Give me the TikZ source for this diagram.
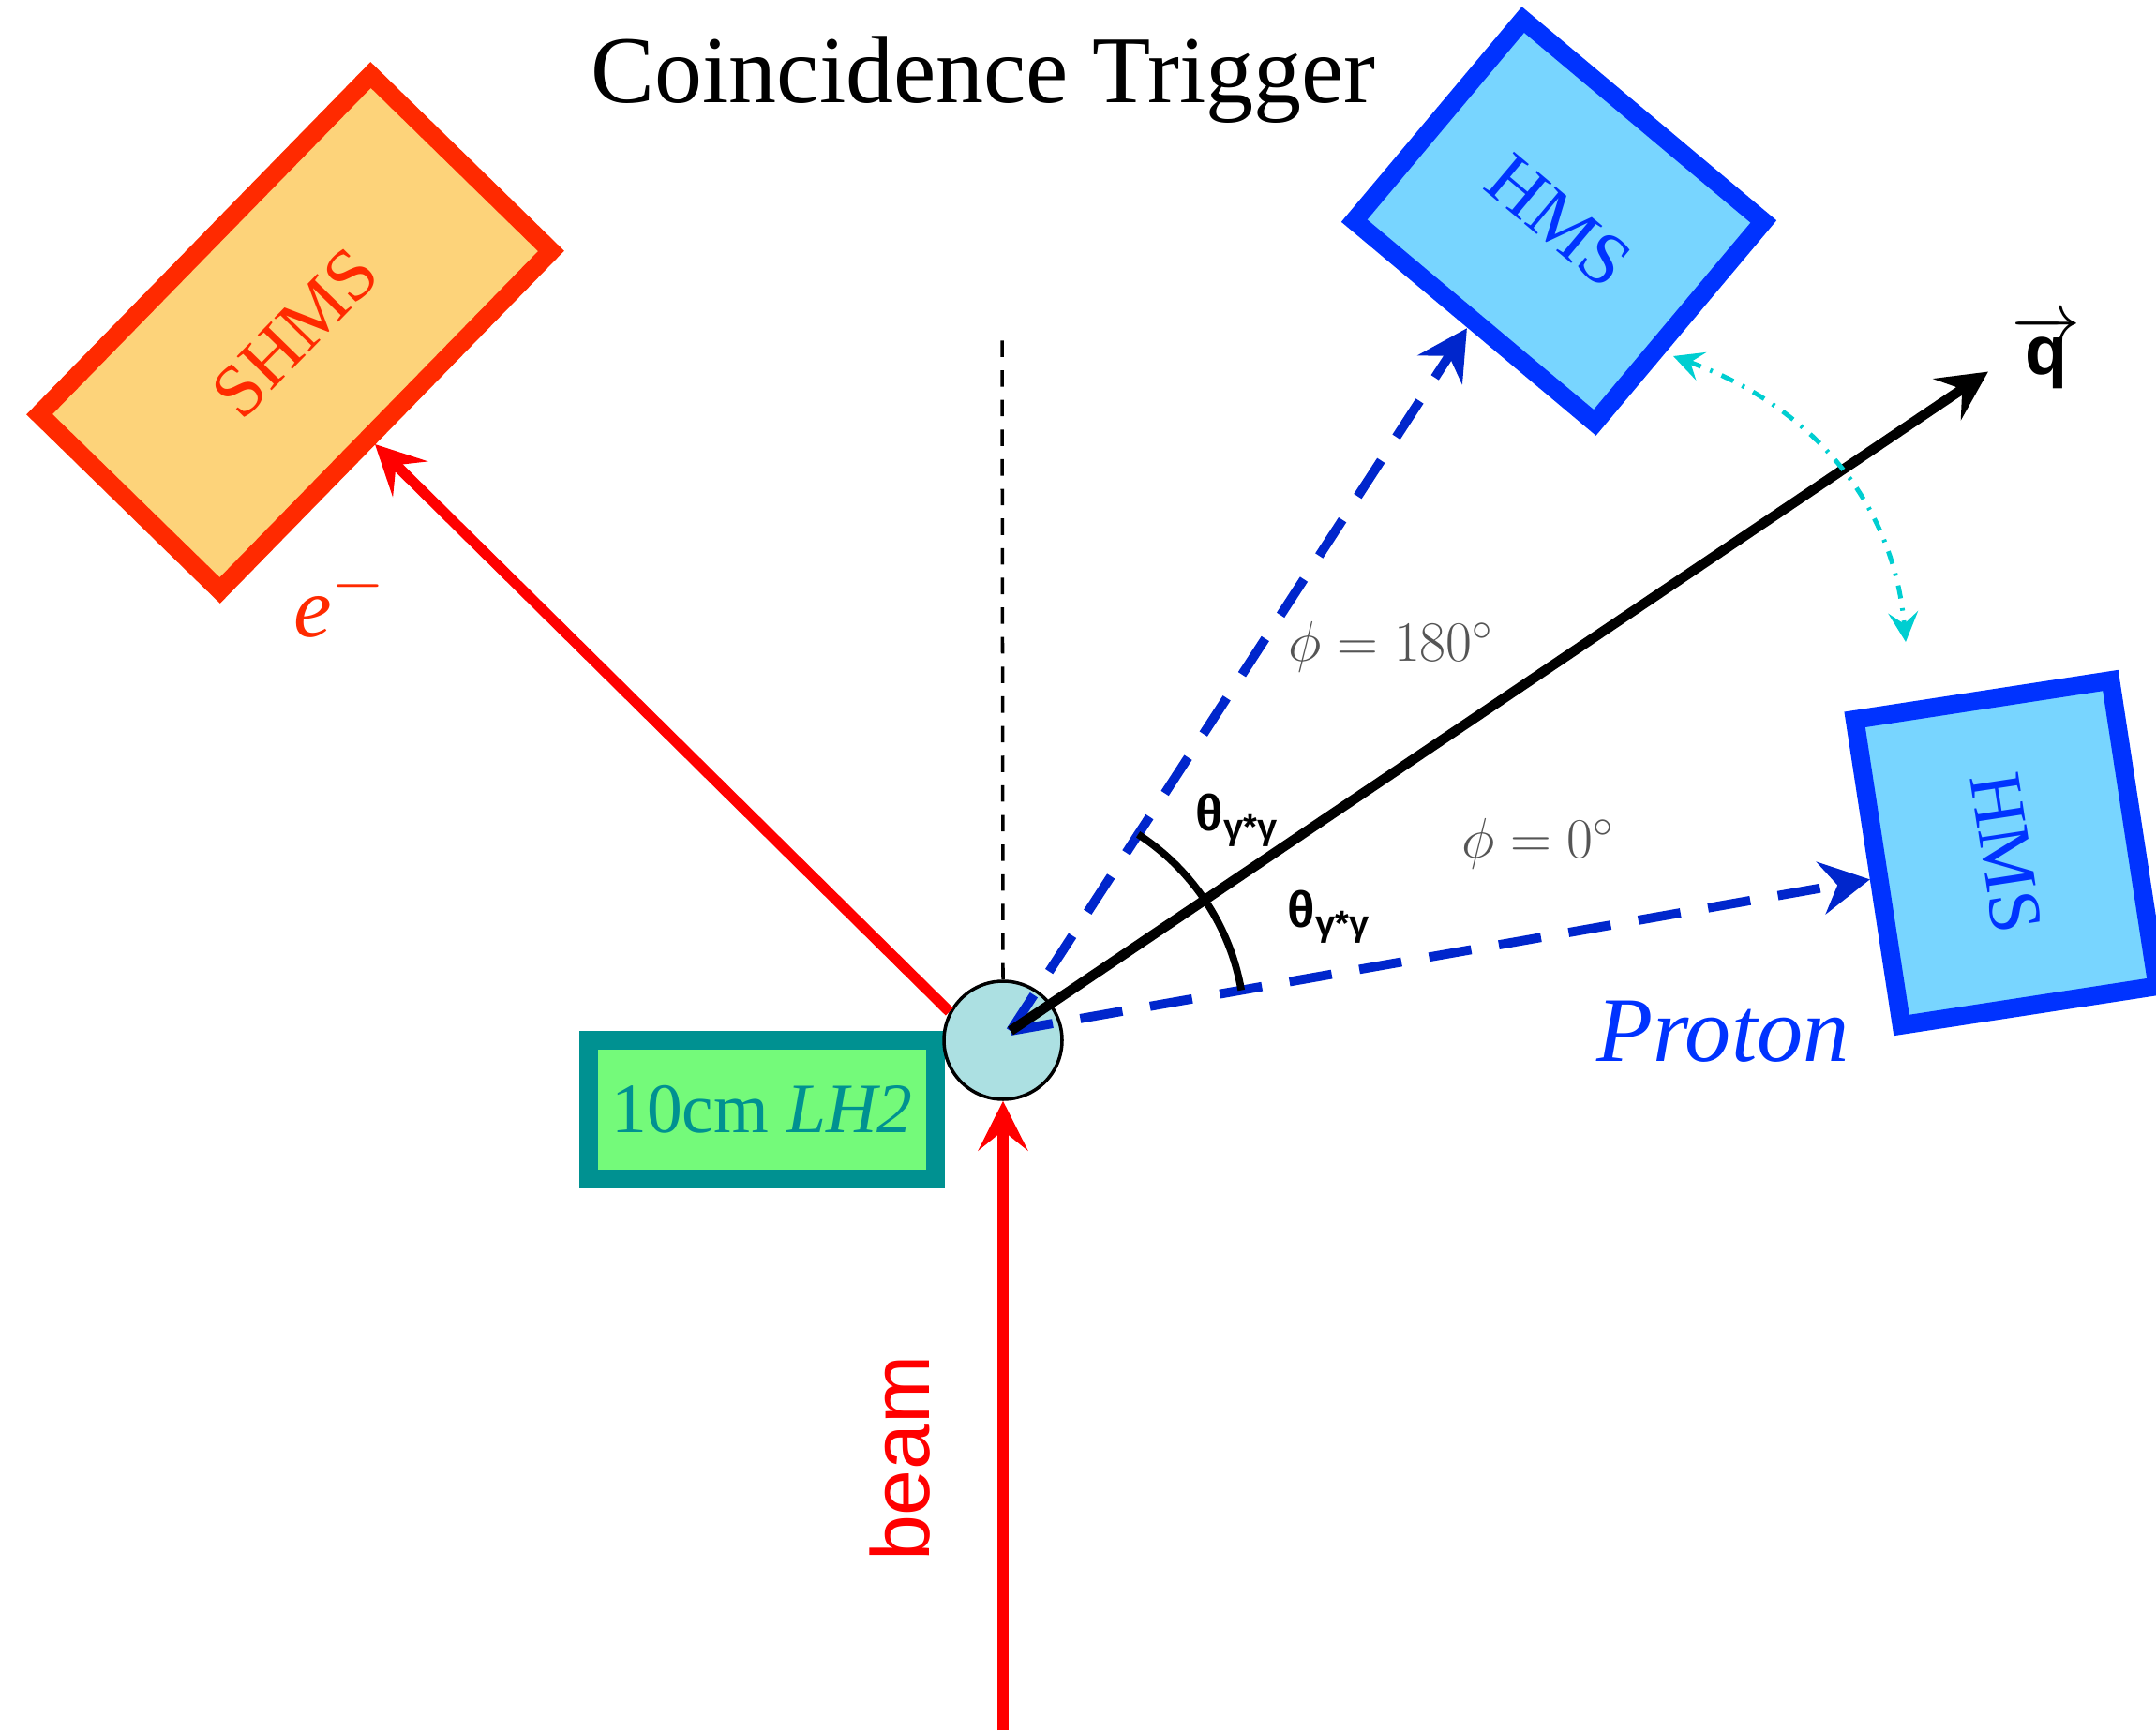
\documentclass[tikz,border=0pt]{standalone}
\usepackage{fontspec}
\setmainfont{Liberation Serif}
\setsansfont{Liberation Sans}
\usetikzlibrary{arrows.meta, calc, angles}

\definecolor{shmsRed}{RGB}{255,42,0}
\definecolor{shmsFill}{RGB}{253,211,122}
\definecolor{hmsBlue}{RGB}{0,51,255}
\definecolor{hmsFill}{RGB}{120,213,255}
\definecolor{pathBlue}{RGB}{0,38,204}
\definecolor{tgtTeal}{RGB}{0,145,145}
\definecolor{tgtGreen}{RGB}{116,250,122}
\definecolor{tgtCyan}{RGB}{172,224,226}
\definecolor{swing}{RGB}{0,206,209}
\definecolor{phiGray}{RGB}{85,85,85}

\begin{document}
\begin{tikzpicture}[
  box/.style={draw, line width=5.6pt, inner sep=0pt},
  shmsbox/.style={box, draw=shmsRed, fill=shmsFill, text=shmsRed, font=\fontsize{22.5}{26}\selectfont},
  hmsbox/.style={box, draw=hmsBlue, fill=hmsFill, text=hmsBlue, font=\fontsize{22.5}{26}\selectfont},
  redarr/.style={draw=red, line width=3.2pt, -{Stealth[length=15pt, width=15pt, inset=6pt]}},
  blarr/.style={draw=pathBlue, line width=2.8pt, dash pattern=on 13pt off 8.5pt,
    -{Stealth[length=15pt, width=16pt, inset=5pt]}},
  qarr/.style={draw=black, line width=3pt, -{Stealth[length=15pt, width=15pt, inset=5.5pt]}},
  vdash/.style={draw=black, line width=1pt, dash pattern=on 5pt off 4pt},
  swarr/.style={draw=swing, line width=1.4pt, dash pattern=on 4pt off 3pt on 0.8pt off 3pt,
    {Stealth[length=9pt, width=9pt, inset=3.5pt]}-{Stealth[length=9pt, width=9pt, inset=3.5pt]}},
  thlab/.style={font=\sffamily\bfseries\fontsize{15.5}{18}\selectfont},
  philab/.style={text=phiGray, font=\fontsize{18.5}{22}\selectfont}
]
\useasboundingbox (0,0) rectangle (23,18.46);

% title
\node[anchor=base, font=\fontsize{29}{34}\selectfont] (title) at (10.49,17.36) {Coincidence Trigger};

% spectrometers
\node[shmsbox, minimum width=5.06cm, minimum height=2.69cm, rotate=45.7] (shms) at (3.15,14.91) {SHMS};
\node[hmsbox, minimum width=3.35cm, minimum height=2.80cm, rotate=-40] (hmsU) at (16.63,16.10) {HMS};
\node[hmsbox, minimum width=3.30cm, minimum height=2.76cm, rotate=-81.3] (hmsR) at (21.40,9.36) {HMS};

% target
\node[box, draw=tgtTeal, fill=tgtGreen, text=tgtTeal, minimum width=3.70cm, minimum height=1.48cm,
  font=\fontsize{21.5}{25}\selectfont] (lh2) at (8.13,6.62) {10cm \textit{LH2}};
\node[circle, draw, line width=1pt, fill=tgtCyan, minimum size=1.26cm, inner sep=0pt] (tgt) at (10.70,7.36) {};

\coordinate (vtx) at (10.78,7.46);
\coordinate (upTip) at ($(vtx)+(57:8.94)$);
\coordinate (loTip) at ($(vtx)+(10:9.31)$);
\coordinate (qTip) at ($(vtx)+(34:12.58)$);
\coordinate (eTip) at (4.00,13.72);
\coordinate (beamStart) at (10.70,0);
\coordinate (vTop) at (10.69,14.94);
\coordinate (swU) at (17.85,14.66);
\coordinate (swL) at (20.33,11.61);

% beam and scattered electron
\draw[redarr] (beamStart) -- (tgt.south);
\draw[redarr] (tgt.152) -- (eTip);
\draw[vdash] (tgt.north) -- (vTop);

% proton directions and q
\draw[blarr] (vtx) -- (upTip);
\draw[blarr] (vtx) -- (loTip);
\pic[draw, line width=2.2pt, angle radius=2.5cm] {angle=loTip--vtx--upTip};
\draw[qarr] (vtx) -- (qTip);
\draw[swarr] (swU) to[out=-20, in=95] (swL);

% labels
\node[anchor=base, text=shmsRed, font=\fontsize{26}{30}\selectfont] (elab) at (3.62,11.66)
  {\textit{e}\raisebox{0.40em}{\fontsize{22}{22}\selectfont$-$}};
\node[anchor=base, text=hmsBlue, font=\itshape\fontsize{28}{32}\selectfont] (prot) at (18.38,7.14) {Proton};
\node[anchor=base, font=\sffamily\bfseries\fontsize{21}{25}\selectfont] (qlab) at (21.83,14.46) {$\overrightarrow{\mbox{q}}$};
\node[philab] (phiU) at (14.84,11.56) {$\phi = 180^\circ$};
\node[philab] (phiL) at (16.41,9.46) {$\phi = 0^\circ$};
\node[thlab] (thU) at (13.20,9.71) {θ\textsubscript{γ*γ}};
\node[thlab] (thL) at (14.18,8.68) {θ\textsubscript{γ*γ}};
\node[rotate=90, text=red, font=\sffamily\fontsize{25}{30}\selectfont] (beam) at (9.60,2.90) {beam};
\end{tikzpicture}
\end{document}
